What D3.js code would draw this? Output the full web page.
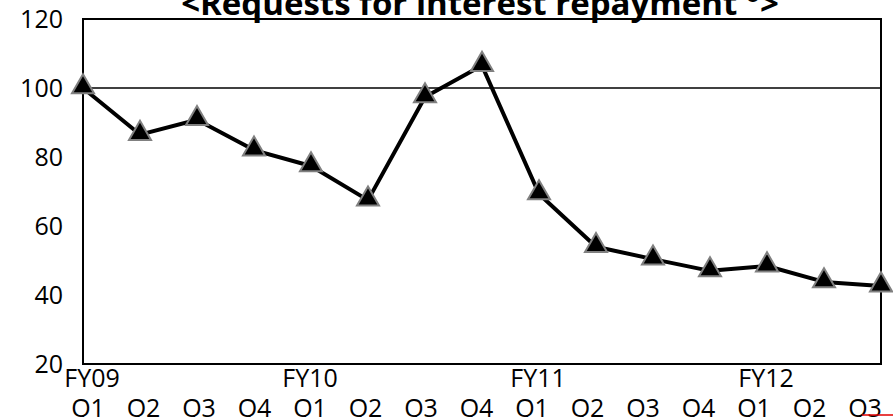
<!DOCTYPE html>
<html>
<head>
<meta charset="utf-8">
<script src="https://cdn.jsdelivr.net/npm/d3@7"></script>
<style>
  body { margin: 0; background: #fff; }
  text { font-family: "Open Sans", sans-serif; fill: #000; }
</style>
</head>
<body>
<div class="chart"></div>
<script>
const quarters = ["Q1","Q2","Q3","Q4","Q1","Q2","Q3","Q4","Q1","Q2","Q3","Q4","Q1","Q2","Q3"];
const years = ["FY09","FY10","FY11","FY12"];
const values = [100, 86.5, 90.8, 82, 77.4, 67.5, 97.4, 106.5, 69.3, 54, 50.4, 47, 48.4, 43.8, 42.6];
const yTicks = [20, 40, 60, 80, 100, 120];

const margin = {top: 19, right: 12, bottom: 53, left: 83};
const width = 893 - margin.left - margin.right,
    height = 417 - margin.top - margin.bottom;

const svg = d3.select(".chart").append("svg")
  .attr("width", 893)
  .attr("height", 417)
  .append("g")
  .attr("transform", "translate(" + margin.left + "," + margin.top + ")");

const xScale = d3.scalePoint()
  .domain(d3.range(values.length))
  .range([0, width]);

// quarter labels sit slightly tighter than the points
const labelScale = d3.scalePoint()
  .domain(d3.range(quarters.length))
  .range([5, width - 16]);

const yScale = d3.scaleLinear()
  .domain([20, 120])
  .range([height, 0]);

// y labels
svg.selectAll(".yLabel")
  .data(yTicks)
  .enter()
  .append("text")
  .attr("class", "yLabel")
  .attr("x", -20)
  .attr("y", d => yScale(d))
  .attr("dy", "0.36em")
  .attr("text-anchor", "end")
  .style("font-size", "25px")
  .text(d => d);

// reference line at 100
svg.append("line")
  .attr("x1", 0)
  .attr("x2", width)
  .attr("y1", yScale(100))
  .attr("y2", yScale(100))
  .attr("stroke", "#000")
  .attr("stroke-width", 1.5);

// frame
svg.append("rect")
  .attr("width", width)
  .attr("height", height)
  .attr("fill", "none")
  .attr("stroke", "#000")
  .attr("stroke-width", 2);

const line = d3.line()
  .x((d, i) => xScale(i))
  .y(d => yScale(d));

svg.append("path")
  .datum(values)
  .attr("d", line)
  .attr("fill", "none")
  .attr("stroke", "#000")
  .attr("stroke-width", 4)
  .attr("stroke-linejoin", "round");

svg.selectAll(".marker")
  .data(values)
  .enter()
  .append("path")
  .attr("class", "marker")
  .attr("d", d3.symbol().type(d3.symbolTriangle).size(210))
  .attr("transform", (d, i) => "translate(" + xScale(i) + "," + (yScale(d) - 1) + ")")
  .attr("fill", "#000")
  .attr("stroke", "#808080")
  .attr("stroke-width", 2);

// fiscal year labels
svg.selectAll(".fy")
  .data(years)
  .enter()
  .append("text")
  .attr("class", "fy")
  .attr("x", (d, i) => i === 0 ? xScale(0) + 9 : xScale(i * 4) - 1)
  .attr("y", height + 23)
  .attr("text-anchor", "middle")
  .style("font-size", "25px")
  .text(d => d);

// quarter labels
svg.selectAll(".q")
  .data(quarters)
  .enter()
  .append("text")
  .attr("class", "q")
  .attr("x", (d, i) => labelScale(i))
  .attr("y", height + 53)
  .attr("text-anchor", "middle")
  .style("font-size", "25px")
  .text(d => d);

// squiggle mark under last label
svg.append("line")
  .attr("x1", labelScale(quarters.length - 1) - 3)
  .attr("x2", width + margin.right)
  .attr("y1", height + 51)
  .attr("y2", height + 51)
  .attr("stroke", "#e00000")
  .attr("stroke-width", 1.5);

// title
svg.append("text")
  .attr("x", width / 2 - 2)
  .attr("y", -4)
  .attr("text-anchor", "middle")
  .style("font-size", "33px")
  .style("font-weight", "bold")
  .text("<Requests for interest repayment °>");
</script>
</body>
</html>
